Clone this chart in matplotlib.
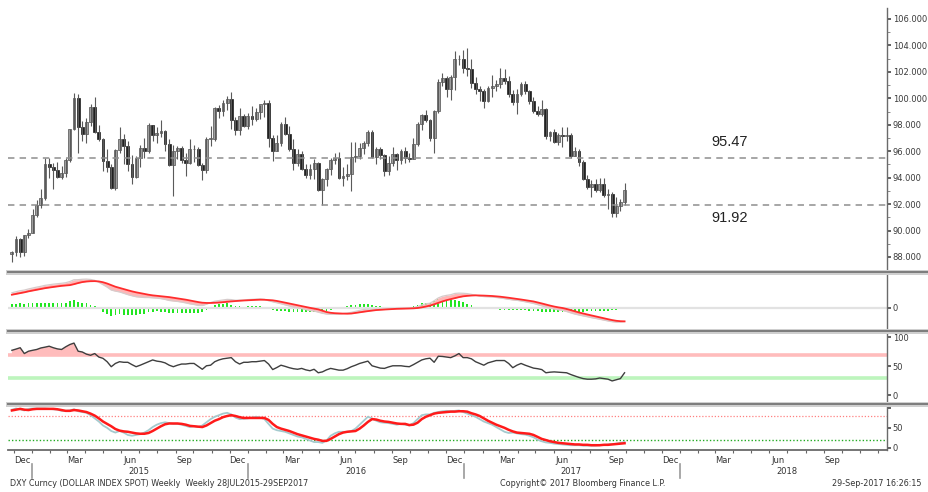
import numpy as np
import pandas as pd
import matplotlib
matplotlib.use("Agg")
import matplotlib.pyplot as plt
import matplotlib.dates as mdates
from matplotlib.lines import Line2D
from matplotlib.ticker import FormatStrFormatter


# Data  (DXY weekly bars, Friday dates)

weeks = pd.date_range("2014-11-28", periods=149, freq="W-FRI")

opens = [
    88.25, 88.36, 89.33, 88.38, 89.63,
    89.85, 91.21, 91.96, 92.46, 95.04, 94.80, 94.61, 94.08, 94.35, 95.34,
    97.66, 100.02, 97.84, 97.31, 98.21, 99.36, 97.47, 96.93, 95.26, 94.81,
    93.19, 96.12, 96.92, 96.36, 95.05, 94.07, 95.45, 96.24, 96.04, 97.97,
    97.22, 97.34, 97.56, 96.56, 94.97, 96.05, 96.21, 95.30, 95.13, 96.13,
    96.14, 94.99, 94.56, 96.93, 96.93, 99.24, 99.05, 99.64, 99.93, 98.34,
    97.57, 98.70,
    97.94, 98.63, 98.42, 99.00, 99.58, 99.61, 96.99, 96.05, 96.63, 98.08,
    97.31, 96.18, 95.07, 95.80, 94.63, 94.21, 94.64, 95.11, 93.06, 93.86,
    94.63, 95.30, 95.52, 94.00, 94.10, 94.28, 95.53, 95.63, 96.26, 96.60,
    97.45, 95.55, 96.19, 95.72, 94.50, 95.12, 95.81, 95.32, 96.05, 95.45,
    95.41, 96.56, 98.02, 98.71, 98.34, 96.99, 99.07, 101.26, 101.51, 100.74,
    101.58, 102.94, 102.95,
    102.28, 102.21, 101.19, 100.74, 100.56, 99.80, 100.79, 100.95, 101.12, 101.54,
    101.31, 100.33, 99.75, 100.35, 101.08, 100.52, 99.80, 99.04, 98.85, 99.22,
    97.13, 97.43, 96.70, 97.24, 97.16, 97.25, 95.63, 96.02, 95.15, 93.87,
    93.30, 93.54, 93.06, 93.50, 92.67, 92.80, 91.35, 91.87, 92.17,
]
highs = [
    88.45, 89.55, 89.44, 89.69, 90.15,
    91.63, 92.30, 93.12, 95.48, 95.52, 95.10, 95.20, 94.90, 95.50, 97.70,
    100.39, 100.35, 98.30, 98.50, 99.60, 100.10, 98.00, 97.00, 96.20, 95.00,
    96.15, 97.85, 97.30, 96.80, 95.70, 95.60, 96.45, 97.00, 98.10, 98.00,
    97.80, 98.35, 97.60, 96.90, 96.45, 96.40, 96.40, 95.90, 96.90, 96.50,
    96.30, 95.10, 97.10, 97.90, 99.35, 99.50, 99.90, 100.20, 100.51, 98.60,
    99.30, 98.80,
    98.90, 99.40, 99.30, 99.50, 99.90, 99.85, 97.20, 97.20, 98.20, 98.60,
    97.90, 96.90, 96.20, 96.00, 95.00, 95.00, 95.40, 95.20, 93.95, 94.70,
    95.50, 95.90, 95.95, 94.80, 95.00, 96.70, 96.70, 96.60, 96.80, 97.57,
    97.60, 96.30, 96.30, 95.80, 95.60, 96.30, 95.90, 96.20, 96.30, 95.90,
    97.00, 98.20, 98.80, 99.10, 98.40, 99.12, 101.48, 101.95, 101.70, 101.80,
    103.56, 103.30, 103.65,
    103.82, 102.95, 101.60, 100.90, 100.70, 100.90, 101.76, 101.40, 102.26, 102.20,
    101.70, 100.60, 100.70, 101.20, 101.30, 100.60, 100.10, 99.40, 99.90, 99.30,
    97.50, 97.65, 97.40, 97.85, 97.80, 97.40, 96.30, 96.20, 95.35, 94.20,
    93.80, 93.90, 93.95, 93.95, 93.15, 92.95, 92.50, 92.40, 93.60,
]
lows = [
    87.62, 88.10, 87.98, 88.10, 89.40,
    89.80, 91.00, 91.70, 92.30, 94.00, 93.15, 93.98, 93.90, 94.05, 95.20,
    97.60, 95.90, 96.80, 96.60, 97.90, 97.40, 96.80, 94.50, 94.40, 93.13,
    93.10, 95.90, 95.00, 94.50, 93.50, 94.00, 94.80, 95.50, 95.90, 96.80,
    96.60, 97.10, 96.00, 94.90, 92.62, 95.40, 95.10, 94.10, 95.05, 95.20,
    94.90, 93.80, 94.35, 96.40, 96.80, 98.50, 98.70, 99.10, 97.70, 97.20,
    97.20, 97.80,
    97.70, 98.00, 98.30, 98.40, 98.60, 96.30, 95.25, 96.00, 96.40, 97.20,
    96.00, 94.60, 94.90, 94.60, 93.95, 93.90, 93.90, 93.00, 91.92, 93.40,
    94.20, 95.00, 93.90, 93.40, 93.80, 93.00, 95.20, 95.40, 95.80, 96.40,
    95.50, 95.00, 95.40, 94.10, 94.20, 94.90, 94.60, 95.00, 95.10, 95.20,
    95.40, 96.40, 97.60, 98.20, 96.80, 95.90, 98.90, 100.90, 100.10, 99.85,
    100.60, 102.50, 101.95,
    101.70, 100.75, 100.30, 99.80, 99.23, 99.70, 100.10, 100.55, 100.80, 101.10,
    100.10, 99.50, 98.85, 100.20, 100.30, 99.60, 98.90, 98.70, 98.70, 96.95,
    96.80, 96.60, 96.50, 96.30, 96.80, 95.47, 95.60, 94.90, 93.80, 93.15,
    92.55, 92.90, 92.95, 92.55, 91.60, 91.01, 91.00, 91.50, 91.90,
]
closes = [
    88.36, 89.33, 88.38, 89.63, 89.85,
    91.21, 91.96, 92.46, 95.04, 94.80, 94.61, 94.08, 94.35, 95.34, 97.66,
    100.02, 97.84, 97.31, 98.21, 99.36, 97.47, 96.93, 95.26, 94.81, 93.19,
    96.12, 96.92, 96.36, 95.05, 94.07, 95.45, 96.24, 96.04, 97.97, 97.22,
    97.34, 97.56, 96.56, 94.97, 96.05, 96.21, 95.30, 95.13, 96.13, 96.14,
    94.99, 94.56, 96.93, 96.93, 99.24, 99.05, 99.64, 99.93, 98.34, 97.57,
    98.70, 97.94,
    98.63, 98.42, 99.00, 99.58, 99.61, 96.99, 96.05, 96.63, 98.08, 97.31,
    96.18, 95.07, 95.80, 94.63, 94.21, 94.64, 95.11, 93.06, 93.86, 94.63,
    95.30, 95.52, 94.00, 94.10, 94.28, 95.53, 95.63, 96.26, 96.60, 97.45,
    95.55, 96.19, 95.72, 94.50, 95.12, 95.81, 95.32, 96.05, 95.45, 95.41,
    96.56, 98.02, 98.71, 98.34, 96.99, 99.07, 101.26, 101.51, 100.74, 101.58,
    102.94, 102.95, 102.28,
    102.21, 101.19, 100.74, 100.56, 99.80, 100.79, 100.95, 101.12, 101.54, 101.31,
    100.33, 99.75, 100.35, 101.08, 100.52, 99.80, 99.04, 98.85, 99.22, 97.13,
    97.43, 96.70, 97.24, 97.16, 97.25, 95.63, 96.02, 95.15, 93.87, 93.30,
    93.54, 93.06, 93.50, 92.67, 92.80, 91.35, 91.87, 92.17, 93.07,
]

levels = [95.47, 91.92]

# MACD: slow (red) line, fast (grey) line, histogram
macd_slow = [
    1.60, 1.70, 1.80, 1.90, 2.02, 2.12, 2.22, 2.32, 2.42, 2.50,
    2.57, 2.64, 2.71, 2.76, 2.80, 2.92, 3.06, 3.18, 3.25, 3.29,
    3.30, 3.26, 3.16, 3.00, 2.80, 2.60, 2.45, 2.30, 2.16, 2.02,
    1.90, 1.80, 1.70, 1.60, 1.52, 1.46, 1.41, 1.36, 1.30, 1.22,
    1.14, 1.06, 0.98, 0.88, 0.78, 0.68, 0.60, 0.57, 0.57, 0.59,
    0.62, 0.67, 0.72, 0.77, 0.81, 0.85, 0.88, 0.91, 0.94, 0.96,
    0.98, 0.97, 0.94, 0.90, 0.82, 0.72, 0.61, 0.50, 0.38, 0.27,
    0.17, 0.06, -0.04, -0.14, -0.23, -0.40, -0.56, -0.66, -0.71, -0.74,
    -0.76, -0.77, -0.75, -0.68, -0.60, -0.52, -0.45, -0.38, -0.32, -0.28,
    -0.25, -0.22, -0.19, -0.16, -0.15, -0.13, -0.12, -0.10, -0.06, 0.02,
    0.12, 0.24, 0.40, 0.58, 0.76, 0.92, 1.05, 1.18, 1.30, 1.40,
    1.46, 1.50, 1.52, 1.51, 1.49, 1.47, 1.44, 1.40, 1.35, 1.29,
    1.22, 1.15, 1.08, 1.00, 0.92, 0.84, 0.76, 0.64, 0.51, 0.37,
    0.24, 0.12, 0.02, -0.06, -0.18, -0.32, -0.47, -0.62, -0.75, -0.87,
    -0.99, -1.10, -1.22, -1.34, -1.46, -1.57, -1.66, -1.71, -1.73,
]
macd_fast = [
    1.85, 1.98, 2.10, 2.18, 2.32, 2.44, 2.55, 2.65, 2.77, 2.85,
    2.92, 2.97, 3.03, 3.10, 3.25, 3.47, 3.48, 3.53, 3.55, 3.51,
    3.40, 3.16, 2.86, 2.55, 2.18, 2.05, 1.95, 1.78, 1.61, 1.47,
    1.35, 1.30, 1.25, 1.25, 1.22, 1.18, 1.11, 1.01, 0.88, 0.82,
    0.76, 0.68, 0.58, 0.46, 0.38, 0.26, 0.25, 0.42, 0.62, 0.79,
    0.87, 0.95, 1.02, 0.99, 0.91, 0.93, 0.93, 0.99, 1.02, 1.06,
    1.08, 1.02, 0.84, 0.72, 0.60, 0.47, 0.33, 0.20, 0.06, -0.03,
    -0.13, -0.26, -0.38, -0.44, -0.58, -0.72, -0.81, -0.84, -0.83, -0.82,
    -0.76, -0.69, -0.60, -0.48, -0.35, -0.24, -0.20, -0.23, -0.20, -0.20,
    -0.23, -0.19, -0.14, -0.13, -0.12, -0.11, -0.10, -0.02, 0.12, 0.32,
    0.47, 0.54, 0.85, 1.20, 1.41, 1.52, 1.60, 1.76, 1.80, 1.78,
    1.74, 1.65, 1.54, 1.43, 1.37, 1.35, 1.32, 1.26, 1.19, 1.11,
    1.02, 0.95, 0.90, 0.82, 0.72, 0.62, 0.51, 0.36, 0.21, 0.05,
    -0.08, -0.18, -0.28, -0.36, -0.50, -0.67, -0.82, -0.94, -1.05, -1.15,
    -1.27, -1.36, -1.47, -1.58, -1.68, -1.77, -1.82, -1.81, -1.75,
]
macd_hist = [
    0.25, 0.28, 0.30, 0.28, 0.30, 0.32, 0.33, 0.33, 0.35, 0.35,
    0.35, 0.33, 0.32, 0.34, 0.45, 0.55, 0.42, 0.35, 0.30, 0.22,
    0.10, -0.10, -0.30, -0.45, -0.62, -0.55, -0.50, -0.52, -0.55, -0.55,
    -0.55, -0.50, -0.45, -0.35, -0.30, -0.28, -0.30, -0.35, -0.42, -0.40,
    -0.38, -0.38, -0.40, -0.42, -0.40, -0.42, -0.35, -0.15, 0.05, 0.20,
    0.25, 0.28, 0.30, 0.22, 0.10, 0.08, 0.05, 0.08, 0.08, 0.10,
    0.10, 0.05, -0.10, -0.18, -0.22, -0.25, -0.28, -0.30, -0.32, -0.30,
    -0.30, -0.32, -0.34, -0.30, -0.35, -0.32, -0.25, -0.18, -0.12, -0.08,
    0.00, 0.08, 0.15, 0.20, 0.25, 0.28, 0.25, 0.15, 0.12, 0.08,
    0.02, 0.03, 0.05, 0.03, 0.03, 0.02, 0.02, 0.08, 0.18, 0.30,
    0.35, 0.30, 0.45, 0.62, 0.65, 0.60, 0.55, 0.58, 0.50, 0.38,
    0.28, 0.15, 0.02, -0.08, -0.12, -0.12, -0.12, -0.14, -0.16, -0.18,
    -0.20, -0.20, -0.18, -0.18, -0.20, -0.22, -0.25, -0.28, -0.30, -0.32,
    -0.32, -0.30, -0.30, -0.30, -0.32, -0.35, -0.35, -0.32, -0.30, -0.28,
    -0.28, -0.26, -0.25, -0.24, -0.22, -0.20, -0.16, -0.10, -0.02,
]

rsi = [
    77.6, 79.7, 82.0, 72.0, 76.0, 77.6, 79.0, 81.6, 83.0, 84.6,
    82.0, 80.0, 79.0, 83.6, 87.5, 90.0, 76.0, 74.7, 71.0, 69.0,
    72.0, 66.0, 63.8, 58.0, 49.4, 55.0, 58.0, 57.0, 57.0, 53.0,
    49.4, 52.0, 55.0, 58.0, 61.0, 59.0, 58.0, 56.0, 52.0, 49.4,
    52.0, 54.0, 54.0, 55.0, 55.0, 50.0, 45.0, 51.0, 52.0, 58.0,
    61.0, 63.0, 64.0, 65.0, 58.0, 54.0, 57.0, 57.0, 58.0, 58.0,
    59.0, 60.0, 54.0, 44.5, 48.0, 52.0, 50.0, 47.7, 46.0, 45.0,
    46.5, 44.0, 42.5, 45.0, 39.0, 40.5, 44.0, 46.5, 45.0, 43.5,
    43.5, 46.0, 49.4, 52.0, 55.0, 57.0, 59.0, 51.0, 49.0, 47.0,
    46.5, 49.0, 51.0, 51.0, 51.0, 50.0, 49.4, 53.0, 57.0, 61.0,
    63.0, 64.0, 57.0, 67.4, 67.0, 66.0, 65.0, 68.0, 72.0, 65.0,
    65.0, 63.0, 58.0, 55.0, 52.0, 56.0, 58.0, 60.0, 60.0, 60.0,
    55.0, 47.7, 52.0, 55.0, 52.0, 49.4, 47.0, 46.0, 44.5, 39.0,
    40.0, 40.5, 40.0, 39.5, 39.0, 36.0, 33.5, 31.0, 29.0, 28.0,
    28.0, 28.5, 30.0, 29.0, 28.0, 25.0, 27.0, 29.0, 39.0,
]

stoch_k = [
    96, 99, 97, 94, 98, 99, 99, 99, 99, 98,
    97, 96, 93, 93, 94, 97, 92, 90, 88, 82,
    74, 66, 56, 50, 42, 38, 42, 38, 32, 30,
    32, 34, 38, 44, 52, 58, 62, 64, 62, 60,
    60, 58, 55, 52, 54, 52, 56, 64, 72, 78,
    82, 86, 88, 84, 76, 72, 73, 74, 76, 78,
    76, 72, 60, 48, 44, 42, 40, 36, 32, 28,
    26, 22, 18, 14, 14, 12, 18, 30, 36, 40,
    40, 40, 42, 48, 58, 68, 78, 74, 68, 64,
    63, 62, 60, 58, 60, 58, 56, 62, 72, 82,
    84, 84, 88, 90, 92, 93, 92, 93, 94, 90,
    86, 82, 78, 72, 66, 62, 58, 52, 46, 40,
    37, 38, 36, 34, 33, 30, 26, 20, 16, 13,
    12, 10, 9, 8, 7, 6, 6, 6, 5, 5,
    5, 5, 6, 7, 8, 9, 10, 12, 14,
]
stoch_d = [
    94, 96, 98, 96, 95, 97, 98, 98, 98, 98,
    98, 97, 95, 93, 93, 95, 94, 92, 90, 86,
    81, 74, 66, 60, 54, 47, 43, 41, 40, 38,
    36, 35, 35, 37, 42, 48, 54, 59, 61, 61,
    61, 60, 58, 55, 54, 53, 52, 56, 62, 68,
    72, 77, 80, 82, 80, 77, 75, 75, 75, 75,
    75, 75, 70, 60, 52, 48, 45, 42, 38, 34,
    31, 28, 25, 22, 20, 17, 17, 22, 28, 34,
    38, 40, 41, 42, 48, 56, 65, 72, 71, 68,
    66, 65, 63, 61, 60, 60, 57, 58, 63, 72,
    78, 82, 86, 88, 89, 90, 91, 91, 92, 92,
    91, 87, 84, 80, 74, 68, 63, 58, 54, 50,
    45, 41, 38, 37, 36, 35, 32, 27, 22, 19,
    16, 14, 12, 11, 10, 9, 8, 8, 7, 7,
    6, 6, 6, 7, 7, 8, 9, 10, 11,
]

month_label_dates = ["2014-12-15", "2015-03-15", "2015-06-15", "2015-09-15",
                     "2015-12-15", "2016-03-15", "2016-06-15", "2016-09-15",
                     "2016-12-15", "2017-03-15", "2017-06-15", "2017-09-15",
                     "2017-12-15", "2018-03-15", "2018-06-15", "2018-09-15"]
month_labels = ["Dec", "Mar", "Jun", "Sep", "Dec", "Mar", "Jun", "Sep",
                "Dec", "Mar", "Jun", "Sep", "Dec", "Mar", "Jun", "Sep"]
year_labels = ["2015", "2016", "2017", "2018"]

footer_left = "DXY Curncy (DOLLAR INDEX SPOT) Weekly  Weekly 28JUL2015-29SEP2017"
footer_mid = "Copyright\u00a9 2017 Bloomberg Finance L.P."
footer_right = "29-Sep-2017 16:26:15"


# Layout (pixel based)

W, H = 929, 492
X0, X1 = 8, 887
fig = plt.figure(figsize=(W / 100, H / 100), dpi=100)


def box(top, bottom):
    return [X0 / W, 1 - bottom / H, (X1 - X0) / W, (bottom - top) / H]


ax_p = fig.add_axes(box(8, 271))
ax_h = fig.add_axes(box(274, 330))   # histogram drawn on its own scale
ax_m = fig.add_axes(box(274, 330))
ax_r = fig.add_axes(box(332, 403))
ax_s = fig.add_axes(box(405, 450))
axes = [ax_p, ax_m, ax_r, ax_s]

x = mdates.date2num(weeks)
jan15 = mdates.date2num(pd.Timestamp("2015-01-01"))
xlim = (jan15 - 40.6, jan15 + 1445.8)

for ax in axes:
    ax.set_xlim(*xlim)
    ax.set_facecolor("none")
    for s in ("top", "left", "bottom"):
        ax.spines[s].set_visible(False)
    ax.spines["right"].set_color("#6a6a6a")
    ax.spines["right"].set_linewidth(1.0)
    ax.yaxis.tick_right()
    ax.tick_params(axis="y", which="major", direction="out", length=3,
                   width=1.3, color="#555555", labelsize=6,
                   labelcolor="#3a3a3a", pad=1.2)
    ax.tick_params(axis="y", which="minor", direction="out", length=2,
                   width=0.6, color="#777777")
    ax.tick_params(axis="x", which="both", bottom=False, labelbottom=False)


# Price candles
o, h, l, c = (np.array(v) for v in (opens, highs, lows, closes))
up = c >= o
body = np.maximum(np.abs(c - o), 0.07)
ax_p.vlines(x, l, h, color="#5a5a5a", lw=0.8)
ax_p.bar(x[up], body[up], bottom=o[up], width=4.8, color="#a2a2a2",
         edgecolor="#4e4e4e", linewidth=0.5)
ax_p.bar(x[~up], body[~up], bottom=c[~up], width=4.8, color="#1e1e1e",
         edgecolor="#1e1e1e", linewidth=0.5)

for lev in levels:
    ax_p.axhline(lev, color="#8e8e8e", lw=1.1, ls=(0, (4.2, 3.4)))
tr = matplotlib.transforms.blended_transform_factory(ax_p.transAxes, ax_p.transData)
ax_p.text((730 - X0) / (X1 - X0), levels[0] + 1.2, f"{levels[0]:.2f}", transform=tr,
          ha="center", va="center", fontsize=10.5, family="Liberation Sans", color="#222222")
ax_p.text((730 - X0) / (X1 - X0), levels[1] - 0.98, f"{levels[1]:.2f}", transform=tr,
          ha="center", va="center", fontsize=10.5, family="Liberation Sans", color="#222222")

ax_p.set_ylim(86.94, 106.83)
ax_p.set_yticks(np.arange(88, 107, 2))
ax_p.set_yticks(np.arange(87, 107, 2), minor=True)
ax_p.yaxis.set_major_formatter(FormatStrFormatter("%.3f"))

# MACD
ax_h.set_xlim(*xlim)
ax_h.axis("off")
ax_h.set_ylim(-2.81 / 1.7, 4.19 / 1.7)
ax_h.axhline(0, color="#e2e2e2", lw=1.6)
ax_h.bar(x, macd_hist, width=3.0, color="#22e622", linewidth=0)
ax_m.fill_between(x, macd_slow, macd_fast, color="#ffb6b6", lw=0)
ax_m.plot(x, macd_fast, color="#d6cccc", lw=0.9)
ax_m.plot(x, macd_slow, color="#ff2c2c", lw=1.3)
ax_m.set_ylim(-2.81, 4.19)
ax_m.set_yticks([0])
ax_m.set_yticklabels(["0"])

# RSI
r = np.array(rsi)
ax_r.axhline(70, color="#ffbcbc", lw=2.6)
ax_r.axhline(30, color="#bdf5bd", lw=2.6)
ax_r.fill_between(x, r, 70, where=r >= 70, interpolate=True, color="#ffbcbc", lw=0)
ax_r.plot(x, r, color="#3e3e3e", lw=1.0)
ax_r.set_ylim(-12.9, 109)
ax_r.set_yticks([0, 50, 100])

# Stochastics
ax_s.axhline(80, color="#ff8080", lw=0.9, ls=(0, (1, 1.5)))
ax_s.axhline(20, color="#22aa22", lw=1.0, ls=(0, (1, 1.5)))
ax_s.plot(x, stoch_k, color="#a4cace", lw=1.3)
ax_s.plot(x, stoch_d, color="#ff1a1a", lw=1.8)
ax_s.set_ylim(-6.1, 107.8)
ax_s.set_yticks([0, 50, 100])
ax_s.set_yticklabels(["0", "50", ""])

# time axis
ax_s.spines["bottom"].set_visible(True)
ax_s.spines["bottom"].set_color("#6a6a6a")
ax_s.spines["bottom"].set_linewidth(1.3)
ax_s.set_xticks(mdates.date2num(pd.to_datetime(month_label_dates)))
ax_s.set_xticklabels(month_labels)
ax_s.set_xticks(mdates.date2num(pd.date_range("2014-12-01", "2018-12-01", freq="MS")), minor=True)
ax_s.tick_params(axis="x", which="major", bottom=True, labelbottom=True, length=0,
                 labelsize=6, labelcolor="#333333", pad=4)
ax_s.tick_params(axis="x", which="minor", bottom=True, length=2.5, width=0.8,
                 color="#666666", direction="out")

xt = ax_s.get_xaxis_transform()
for yr in year_labels:
    xs = mdates.date2num(pd.Timestamp(f"{yr}-01-01"))
    ax_s.plot([xs, xs], [-0.32, -0.62], transform=xt, clip_on=False,
              color="#9a9a9a", lw=1.2)
    ax_s.text(mdates.date2num(pd.Timestamp(f"{yr}-07-01")), -0.47, yr,
              transform=xt, ha="center", va="center", fontsize=6, color="#333333")

# panel separators
for yy in (272, 331, 404):
    fy = 1 - yy / H
    fig.add_artist(Line2D([X0 / W, 1], [fy, fy], color="#cfcfcf", lw=3.6))
    fig.add_artist(Line2D([X0 / W, 1], [fy, fy], color="#7c7c7c", lw=1.4))

# footer
fy = 1 - 484 / H
fig.text(10 / W, fy, footer_left, fontsize=5.8, color="#333333", va="center")
fig.text(583 / W, fy, footer_mid, fontsize=5.8, color="#333333", va="center", ha="center")
fig.text(832 / W, fy, footer_right, fontsize=5.8, color="#333333", va="center")

fig.savefig("out.png", dpi=100)
